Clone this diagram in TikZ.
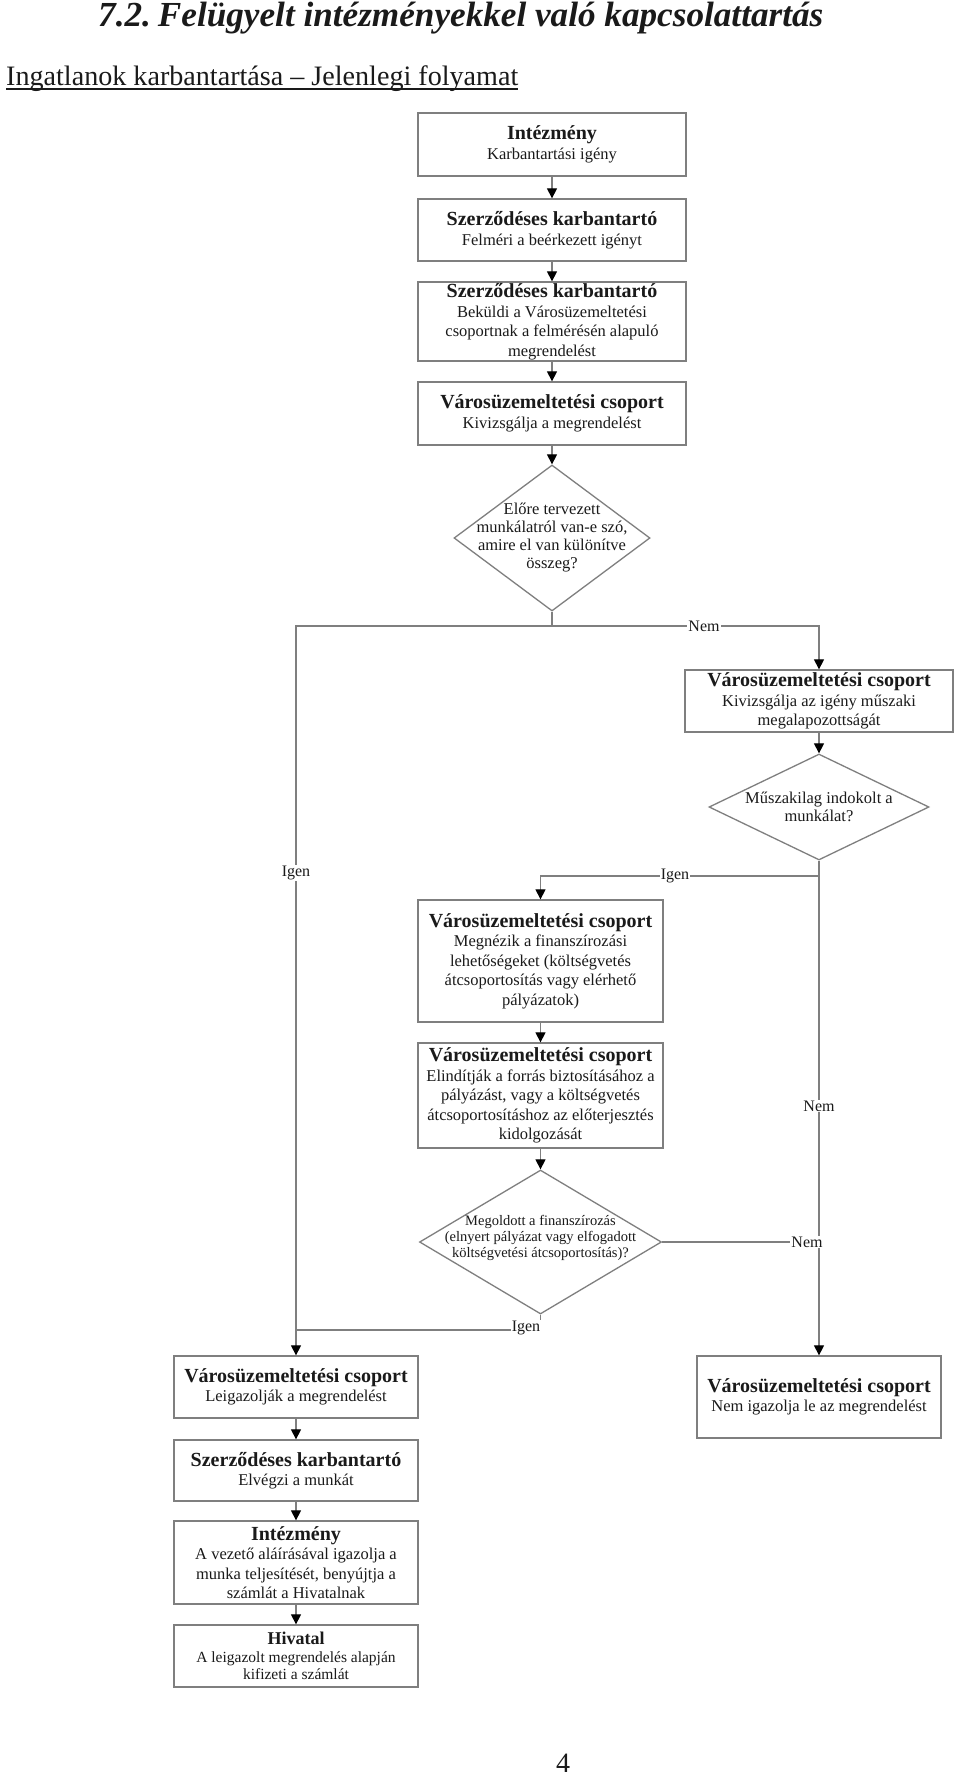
\documentclass[tikz,border=0pt]{standalone}
\usepackage{fontspec}
\setmainfont{Liberation Serif}
\usetikzlibrary{shapes.geometric,arrows.meta}
\definecolor{ln}{HTML}{7F7F7F}
\definecolor{tx}{HTML}{1A1A1A}
\newcommand\hd[1]{{\fontsize{20}{21}\selectfont\bfseries #1}\\}
\begin{document}
\begin{tikzpicture}[x=1pt,y=-1pt,
  box/.style={draw=ln, line width=1.3pt, inner sep=0pt, align=center, text=tx, font=\fontsize{16.5}{19.5}\selectfont},
  dia/.style={diamond, draw=ln, line width=1.3pt, inner sep=0pt},
  dtxt/.style={align=center, text=tx, inner sep=0pt, font=\fontsize{16.5}{18}\selectfont},
  lbl/.style={fill=white, inner sep=1pt, text=tx, font=\fontsize{16}{18}\selectfont},
  conn/.style={draw=ln, line width=1.2pt},
  arr/.style={conn, -{Triangle[width=10pt,length=10pt,color=black]}},
  heading/.style={anchor=base west, inner sep=0pt, text=tx}
]
\path[use as bounding box, fill=white] (0,0) rectangle (960,1782);

% headings
\node[heading] (title) at (98,27) {\resizebox{725pt}{!}{\bfseries\itshape 7.2.\hspace{2pt}Felügyelt intézményekkel való kapcsolattartás}};
\node[heading] (sub) at (6,86) {\resizebox{512pt}{!}{Ingatlanok karbantartása – Jelenlegi folyamat}};
\draw[tx, line width=1.2pt] ([yshift=-3pt]sub.base west) -- ([yshift=-3pt]sub.base east);

% boxes
\node[box, minimum width=268pt, minimum height=63pt] (b1) at (552,144.5) {\hd{Intézmény}Karbantartási igény};
\node[box, minimum width=268pt, minimum height=62pt] (b2) at (552,230) {\hd{Szerződéses karbantartó}Felméri a beérkezett igényt};
\node[box, minimum width=268pt, minimum height=79pt] (b3) at (552,321.5) {\hd{Szerződéses karbantartó}Beküldi a Városüzemeltetési\\csoportnak a felmérésén alapuló\\megrendelést};
\node[box, minimum width=268pt, minimum height=63pt] (b4) at (552,413.5) {\hd{Városüzemeltetési csoport}Kivizsgálja a megrendelést};
\node[dia, minimum width=196pt, minimum height=146pt] (d1) at (552,538) {};
\node[dtxt] (t1) at (d1) {Előre tervezett\\munkálatról van-e szó,\\amire el van különítve\\összeg?};

\node[box, minimum width=268pt, minimum height=62pt] (b5) at (819,701) {\hd{Városüzemeltetési csoport}Kivizsgálja az igény műszaki\\megalapozottságát};
\node[dia, minimum width=220pt, minimum height=106pt] (d2) at (819,807) {};
\node[dtxt] (t2) at (d2) {Műszakilag indokolt a\\munkálat?};

\node[box, minimum width=245pt, minimum height=122pt] (b7) at (540.5,961) {\hd{Városüzemeltetési csoport}Megnézik a finanszírozási\\lehetőségeket (költségvetés\\átcsoportosítás vagy elérhető\\pályázatok)};
\node[box, minimum width=245pt, minimum height=105pt] (b8) at (540.5,1095.5) {\hd{Városüzemeltetési csoport}Elindítják a forrás biztosításához a\\pályázást, vagy a költségvetés\\átcsoportosításhoz az előterjesztés\\kidolgozását};
\node[dia, minimum width=242pt, minimum height=144pt] (d3) at (540.5,1242) {};
\node[dtxt, font=\fontsize{14.5}{16}\selectfont] (t3) at (540.5,1238) {Megoldott a finanszírozás\\(elnyert pályázat vagy elfogadott\\költségvetési átcsoportosítás)?};

\node[box, minimum width=244pt, minimum height=62pt] (b6) at (296,1387) {\hd{Városüzemeltetési csoport}Leigazolják a megrendelést};
\node[box, minimum width=244pt, minimum height=82pt] (b9) at (819,1397) {\hd{Városüzemeltetési csoport}Nem igazolja le az megrendelést};
\node[box, minimum width=244pt, minimum height=61pt] (b10) at (296,1470.5) {\hd{Szerződéses karbantartó}Elvégzi a munkát};
\node[box, minimum width=244pt, minimum height=83pt] (b11) at (296,1562.5) {\hd{Intézmény}A vezető aláírásával igazolja a\\munka teljesítését, benyújtja a\\számlát a Hivatalnak};
\node[box, minimum width=244pt, minimum height=62pt, font=\fontsize{15.5}{17.5}\selectfont] (b12) at (296,1656) {{\fontsize{18}{19}\selectfont\bfseries Hivatal}\\A leigazolt megrendelés alapján\\kifizeti a számlát};

\node[text=tx, inner sep=0pt, font=\fontsize{28}{28}\selectfont] (page) at (563,1763) {4};

% connectors
\draw[arr] (b1.south) -- (b2.north);
\draw[arr] (b2.south) -- (b3.north);
\draw[arr] (b3.south) -- (b4.north);
\draw[arr] (b4.south) -- (d1.north);
\coordinate (j1) at (552,626);
\draw[conn] (d1.south) -- (j1);
\draw[arr] (j1) -| (b6.north);
\draw[arr] (j1) -| (b5.north);
\draw[arr] (b5.south) -- (d2.north);
\draw[arr] (d2.south) -- (b9.north);
\coordinate (j2) at (819,876);
\draw[arr] (j2) -| (b7.north);
\draw[arr] (b7.south) -- (b8.north);
\draw[arr] (b8.south) -- (d3.north);
\draw[conn] (d3.east) -- (d3.east -| b9.north);
\coordinate (j3) at (540.5,1330);
\draw[conn] (d3.south) -- (j3) -- (j3 -| b6.north);
\draw[arr] (b6.south) -- (b10.north);
\draw[arr] (b10.south) -- (b11.north);
\draw[arr] (b11.south) -- (b12.north);

% labels
\node[lbl] (l1) at (704,626) {Nem};
\node[lbl] (l2) at (296,873) {Igen};
\node[lbl] (l3) at (675,876) {Igen};
\node[lbl] (l4) at (819,1106) {Nem};
\node[lbl] (l5) at (807,1242) {Nem};
\node[lbl] (l6) at (526,1328) {Igen};
\end{tikzpicture}
\end{document}
